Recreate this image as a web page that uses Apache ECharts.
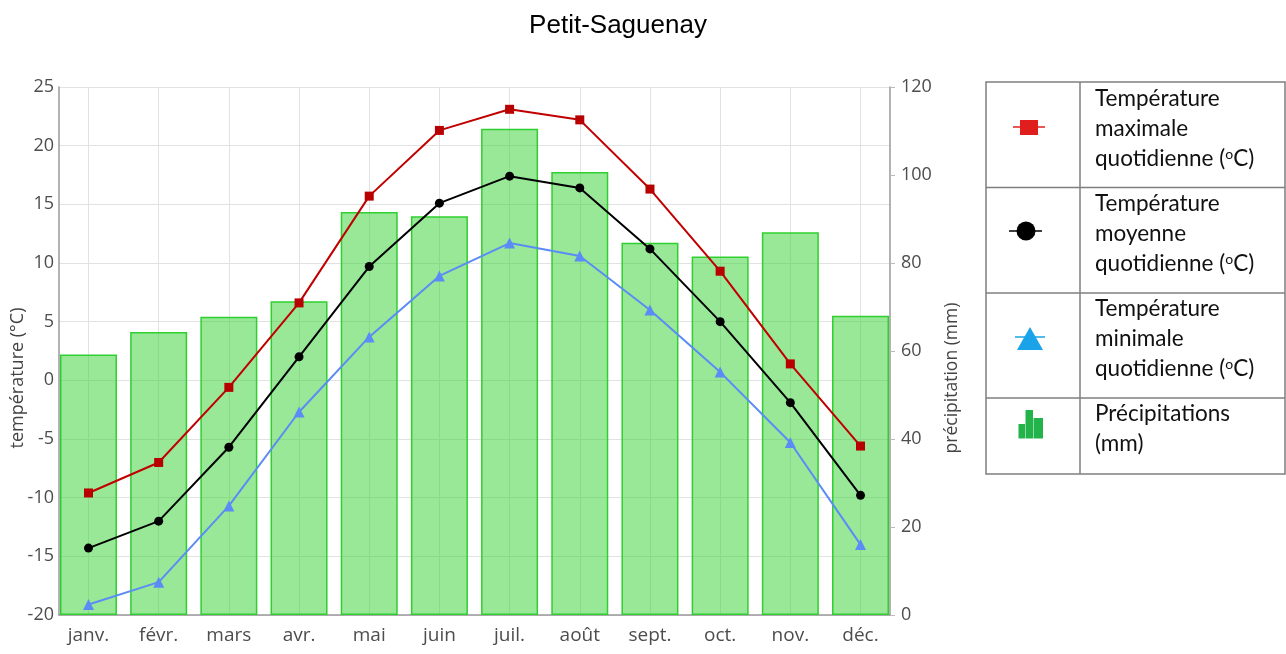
<!DOCTYPE html>
<html><head><meta charset="utf-8">
<script src="https://cdn.jsdelivr.net/npm/echarts@6/dist/echarts.min.js"></script>
<style>html,body{margin:0;padding:0;background:#fff}#c{width:1286px;height:654px}</style>
</head><body><div id="c"></div>
<script>
const months = ['janv.','févr.','mars','avr.','mai','juin','juil.','août','sept.','oct.','nov.','déc.'];
const tempMax = [-9.6,-7.0,-0.6,6.6,15.7,21.3,23.1,22.2,16.3,9.3,1.4,-5.6];
const tempMoy = [-14.3,-12.0,-5.7,2.0,9.7,15.1,17.4,16.4,11.2,5.0,-1.9,-9.8];
const tempMin = [-19.1,-17.2,-10.7,-2.7,3.7,8.9,11.7,10.6,6.0,0.7,-5.3,-14.0];
const precip = [59.2,64.3,67.8,71.3,91.6,90.6,110.5,100.7,84.6,81.5,87.0,68.0];
const title = 'Petit-Saguenay';
const legendRows = [
  ['Température','maximale','quotidienne ({s|o}C)'],
  ['Température','moyenne','quotidienne ({s|o}C)'],
  ['Température','minimale','quotidienne ({s|o}C)'],
  ['Précipitations','(mm)']
];

const idx = months.map((m,i)=>i);
const pts = arr => arr.map((v,i)=>[i,v]);
const chart = echarts.init(document.getElementById('c'));

const G = [];
// legend table
const tx0=986, tx1=1285, tcol=1080, rowsY=[82,187.5,293,398,474];
const bc='#7f7f7f';
G.push({type:'rect',shape:{x:tx0,y:rowsY[0],width:tx1-tx0,height:rowsY[4]-rowsY[0]},style:{fill:'none',stroke:bc,lineWidth:1.5}});
G.push({type:'line',shape:{x1:tcol,y1:rowsY[0],x2:tcol,y2:rowsY[4]},style:{stroke:bc,lineWidth:1.5}});
for(let r=1;r<4;r++) G.push({type:'line',shape:{x1:tx0,y1:rowsY[r],x2:tx1,y2:rowsY[r]},style:{stroke:bc,lineWidth:1.5}});
const textStarts=[99,204,309,414];
legendRows.forEach((lines,r)=>{
  lines.forEach((t,k)=>{
    G.push({type:'text',style:{x:1095,y:textStarts[r]+k*30,text:t,fontFamily:'Lato',fontSize:22.5,fill:'#111',verticalAlign:'middle',align:'left',
      rich:{s:{fontFamily:'Lato',fontSize:14,fill:'#111',verticalAlign:'top',lineHeight:24}}}});
  });
});
// icons
G.push({type:'line',shape:{x1:1013,y1:127,x2:1045,y2:127},style:{stroke:'#e02020',lineWidth:1.5}});
G.push({type:'rect',shape:{x:1020,y:120,width:18,height:15},style:{fill:'#e01e1e'}});
G.push({type:'line',shape:{x1:1009,y1:231,x2:1042,y2:231},style:{stroke:'#000',lineWidth:1.5}});
G.push({type:'circle',shape:{cx:1026,cy:231,r:9.5},style:{fill:'#000'}});
G.push({type:'line',shape:{x1:1015,y1:337,x2:1045,y2:337},style:{stroke:'#1aa3e8',lineWidth:1.5}});
G.push({type:'polygon',shape:{points:[[1017,350],[1043,350],[1030,327]]},style:{fill:'#1aa3e8'}});
G.push({type:'rect',shape:{x:1018.5,y:424,width:6.5,height:14.5},style:{fill:'#22b34a'}});
G.push({type:'rect',shape:{x:1025.5,y:410,width:7.5,height:28.5},style:{fill:'#22b34a'}});
G.push({type:'rect',shape:{x:1033.5,y:418,width:9.5,height:20.5},style:{fill:'#22b34a'}});

chart.setOption({
  animation:false,
  backgroundColor:'#fff',
  title:{text:title,left:613,textAlign:'center',top:8,textStyle:{fontFamily:'Liberation Sans',fontSize:26,fontWeight:'normal',color:'#000'}},
  grid:{left:59,right:396,top:87,bottom:39,containLabel:false,outerBoundsMode:'none'},
  xAxis:{type:'value',min:-0.42,max:11.42,
    axisLine:{show:true,onZero:false,lineStyle:{color:'#999',width:1.5}},
    axisTick:{show:false,customValues:idx},
    axisLabel:{customValues:idx,formatter:v=>months[Math.round(v)],fontFamily:'Open Sans',fontSize:19,color:'#4d4d4d',margin:11},
    splitLine:{show:true,lineStyle:{color:'#e2e2e2',width:1}}},
  yAxis:[
    {type:'value',min:-20,max:25,interval:5,position:'left',
     name:'température (°C)',nameLocation:'middle',nameGap:32,nameRotate:90,nameMoveOverlap:false,
     nameTextStyle:{fontFamily:'Open Sans',fontSize:18,color:'#444',padding:[0,54,0,0]},
     axisLine:{show:true,onZero:false,lineStyle:{color:'#999',width:1.5}},axisTick:{show:false},
     axisLabel:{fontFamily:'Open Sans',fontSize:18,color:'#4d4d4d',margin:5},
     splitLine:{show:true,lineStyle:{color:'#e2e2e2',width:1}}},
    {type:'value',min:0,max:120,interval:20,position:'right',
     name:'précipitation (mm)',nameLocation:'middle',nameGap:51,nameRotate:90,
     nameTextStyle:{fontFamily:'Open Sans',fontSize:17.5,color:'#444',padding:[0,54,0,0]},
     axisLine:{show:true,onZero:false,lineStyle:{color:'#999',width:1.5}},
     axisTick:{show:true,length:5,lineStyle:{color:'#bbb'}},
     axisLabel:{fontFamily:'Open Sans',fontSize:18,color:'#4d4d4d',margin:11},
     splitLine:{show:false}}
  ],
  series:[
    {type:'bar',yAxisIndex:1,data:pts(precip),barWidth:57,
     itemStyle:{color:'rgba(49,209,49,0.5)',borderColor:'#2fcf2f',borderWidth:1.5}},
    {type:'line',yAxisIndex:0,data:pts(tempMax),symbol:'rect',symbolSize:9,
     lineStyle:{color:'#c00000',width:2},itemStyle:{color:'#b80000'}},
    {type:'line',yAxisIndex:0,data:pts(tempMoy),symbol:'circle',symbolSize:9,
     lineStyle:{color:'#000',width:2},itemStyle:{color:'#000'}},
    {type:'line',yAxisIndex:0,data:pts(tempMin),symbol:'triangle',symbolSize:11,
     lineStyle:{color:'#5b8cf5',width:2},itemStyle:{color:'#5b8cf5'}}
  ],
  graphic:G
});
</script></body></html>
